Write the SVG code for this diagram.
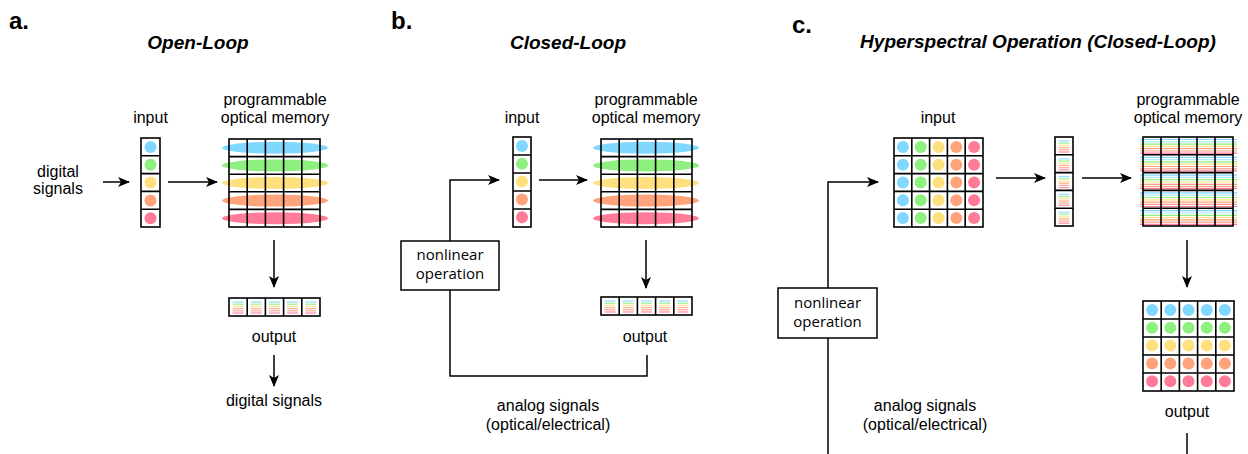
<svg xmlns="http://www.w3.org/2000/svg" width="1248" height="454" viewBox="0 0 1248 454">
<defs>
<style>
text{font-family:"Liberation Sans",Arial,sans-serif;font-size:16px;fill:#000;text-anchor:middle}
.lbl{font-size:24px;font-weight:bold;text-anchor:start}
.ttl{font-size:19px;font-weight:bold;font-style:italic}
.nl{font-family:"Open Sans","DejaVu Sans",sans-serif;font-size:15px}
.ln{fill:none;stroke:#000;stroke-width:1.5}
.arr{fill:none;stroke:#000;stroke-width:1.5;marker-end:url(#ah)}
.grid{fill:none;stroke:#000;stroke-width:1.6}
.box{fill:#fff;stroke:#000;stroke-width:1.5}
.b{fill:#80d8ff}.g{fill:#8ef07e}.y{fill:#ffe07f}.o{fill:#ffa47a}.p{fill:#ff7b97}
.sb{stroke:#80d8ff}.sg{stroke:#8ef07e}.sy{stroke:#ffe07f}.so{stroke:#ffa47a}.sp{stroke:#ff7b97}.sl{stroke:#b0e8ff}.ss{stroke:#ff9a88}
.st{stroke-width:1.3;fill:none;opacity:0.8}
</style>
<marker id="ah" viewBox="0 0 12 12" refX="11" refY="6" markerWidth="12" markerHeight="12" markerUnits="userSpaceOnUse" orient="auto"><path d="M0,1 L12,6 L0,11 L3,6 z" fill="#000"/></marker>
<g id="vcol">
<circle cx="0" cy="0" r="6" class="b"/><circle cx="0" cy="17.8" r="6" class="g"/><circle cx="0" cy="35.6" r="6" class="y"/><circle cx="0" cy="53.4" r="6" class="o"/><circle cx="0" cy="71.2" r="6" class="p"/>
</g>
<g id="hrow">
<circle cx="0" cy="0" r="6" class="b"/><circle cx="17.8" cy="0" r="6" class="g"/><circle cx="35.6" cy="0" r="6" class="y"/><circle cx="53.4" cy="0" r="6" class="o"/><circle cx="71.2" cy="0" r="6" class="p"/>
</g>
<g id="spec" class="st">
<path d="M3.5,4H14.5" class="sb"/><path d="M3.5,6.2H14.5" class="sg"/><path d="M3.5,8.4H14.5" class="sy"/><path d="M3.5,10.6H14.5" class="so"/><path d="M3.5,12.8H14.5" class="ss"/><path d="M3.5,15H14.5" class="sp"/>
</g>
<g id="mstr" style="stroke-width:1.2;fill:none">
<path d="M1140,2.5H1237" class="sb"/><path d="M1140,4.8H1237" class="sl"/><path d="M1140,7.1H1237" class="sg"/><path d="M1140,9.4H1237" class="sy"/><path d="M1140,11.7H1237" class="so"/><path d="M1140,14H1237" class="ss"/><path d="M1140,16.1H1237" class="sp"/>
</g>
</defs>
<rect width="1248" height="454" fill="#fff"/>

<!-- Labels and titles -->
<text class="lbl" x="9" y="29">a.</text>
<text class="lbl" x="391" y="29">b.</text>
<text class="lbl" x="792" y="33">c.</text>
<text class="ttl" x="198" y="49">Open-Loop</text>
<text class="ttl" x="568" y="49">Closed-Loop</text>
<text class="ttl" x="1038" y="48">Hyperspectral Operation (Closed-Loop)</text>

<!-- Connectors -->
<g id="connectors">
<path class="arr" d="M103,182H129"/>
<path class="arr" d="M168,182H217"/>
<path class="arr" d="M274,240V287"/>
<path class="arr" d="M274,355V386"/>
<path class="arr" d="M539,180H587"/>
<path class="arr" d="M646,240V288"/>
<path class="arr" d="M647,355V376H450V180H499"/>
<path class="arr" d="M996,178H1045"/>
<path class="arr" d="M1082,178H1131"/>
<path class="arr" d="M1187,240V287"/>
<path class="ln" d="M1187,433V454"/>
<path class="arr" d="M828,454V182H878"/>
</g>

<!-- Panel a -->
<g id="a-digital-in">
<text x="58" y="177">digital</text>
<text x="58" y="194">signals</text>
</g>
<g id="a-input">
<text x="150.5" y="123">input</text>
<use href="#vcol" x="150.5" y="147"/>
<rect class="grid" x="141" y="138" width="19" height="89"/>
<path class="grid" d="M141,155.8H160M141,173.6H160M141,191.4H160M141,209.2H160"/>
</g>
<g id="a-memory">
<text x="275" y="105">programmable</text>
<text x="275" y="123">optical memory</text>
<ellipse cx="275" cy="147.8" rx="53" ry="6" class="b"/>
<ellipse cx="275" cy="165.4" rx="53" ry="6" class="g"/>
<ellipse cx="275" cy="183" rx="53" ry="6" class="y"/>
<ellipse cx="275" cy="200.6" rx="53" ry="6" class="o"/>
<ellipse cx="275" cy="218.2" rx="53" ry="6" class="p"/>
<rect class="grid" x="229" y="139" width="91" height="88"/>
<path class="grid" d="M247.2,139V227M265.4,139V227M283.6,139V227M301.8,139V227M229,156.6H320M229,174.2H320M229,191.8H320M229,209.4H320"/>
</g>
<g id="a-output">
<use href="#spec" x="229" y="298"/><use href="#spec" x="247.2" y="298"/><use href="#spec" x="265.4" y="298"/><use href="#spec" x="283.6" y="298"/><use href="#spec" x="301.8" y="298"/>
<rect class="grid" x="229" y="298" width="91" height="18"/>
<path class="grid" d="M247.2,298V316M265.4,298V316M283.6,298V316M301.8,298V316"/>
<text x="274" y="342">output</text>
</g>
<g id="a-digital-out">
<text x="274" y="406">digital signals</text>
</g>

<!-- Panel b -->
<g id="b-input">
<text x="522" y="123">input</text>
<use href="#vcol" x="522" y="146"/>
<rect class="grid" x="513" y="137" width="18" height="90"/>
<path class="grid" d="M513,155H531M513,173H531M513,191H531M513,209H531"/>
</g>
<g id="b-memory">
<text x="646" y="105">programmable</text>
<text x="646" y="123">optical memory</text>
<ellipse cx="646" cy="147.8" rx="53" ry="6" class="b"/>
<ellipse cx="646" cy="165.4" rx="53" ry="6" class="g"/>
<ellipse cx="646" cy="183" rx="53" ry="6" class="y"/>
<ellipse cx="646" cy="200.6" rx="53" ry="6" class="o"/>
<ellipse cx="646" cy="218.2" rx="53" ry="6" class="p"/>
<rect class="grid" x="601" y="139" width="91" height="88"/>
<path class="grid" d="M619.2,139V227M637.4,139V227M655.6,139V227M673.8,139V227M601,156.6H692M601,174.2H692M601,191.8H692M601,209.4H692"/>
</g>
<g id="b-output">
<use href="#spec" x="601" y="297"/><use href="#spec" x="619.2" y="297"/><use href="#spec" x="637.4" y="297"/><use href="#spec" x="655.6" y="297"/><use href="#spec" x="673.8" y="297"/>
<rect class="grid" x="601" y="297" width="91" height="18"/>
<path class="grid" d="M619.2,297V315M637.4,297V315M655.6,297V315M673.8,297V315"/>
<text x="645" y="342">output</text>
</g>
<g id="b-nonlinear">
<rect class="box" x="401" y="241" width="98" height="49"/>
<text class="nl" x="450" y="260">nonlinear</text>
<text class="nl" x="450" y="279">operation</text>
</g>
<g id="b-analog">
<text x="548" y="411">analog signals</text>
<text x="548" y="430">(optical/electrical)</text>
</g>

<!-- Panel c -->
<g id="c-input">
<text x="938" y="123">input</text>
<use href="#hrow" x="902.9" y="146.9"/><use href="#hrow" x="902.9" y="164.7"/><use href="#hrow" x="902.9" y="182.5"/><use href="#hrow" x="902.9" y="200.3"/><use href="#hrow" x="902.9" y="218.1"/>
<rect class="grid" x="894" y="138" width="89" height="89"/>
<path class="grid" d="M911.8,138V227M929.6,138V227M947.4,138V227M965.2,138V227M894,155.8H983M894,173.6H983M894,191.4H983M894,209.2H983"/>
</g>
<g id="c-vector">
<use href="#spec" x="1055" y="137"/><use href="#spec" x="1055" y="154.8"/><use href="#spec" x="1055" y="172.6"/><use href="#spec" x="1055" y="190.4"/><use href="#spec" x="1055" y="208.2"/>
<rect class="grid" x="1055" y="137" width="18" height="89"/>
<path class="grid" d="M1055,154.8H1073M1055,172.6H1073M1055,190.4H1073M1055,208.2H1073"/>
</g>
<g id="c-memory">
<text x="1188" y="105">programmable</text>
<text x="1188" y="123">optical memory</text>
<use href="#mstr" y="137"/><use href="#mstr" y="154.8"/><use href="#mstr" y="172.6"/><use href="#mstr" y="190.4"/><use href="#mstr" y="208.2"/>
<rect class="grid" x="1143" y="137" width="90" height="89"/>
<path class="grid" d="M1161,137V226M1179,137V226M1197,137V226M1215,137V226M1143,154.8H1233M1143,172.6H1233M1143,190.4H1233M1143,208.2H1233"/>
</g>
<g id="c-output">
<use href="#vcol" x="1152.1" y="310"/><use href="#vcol" x="1170.3" y="310"/><use href="#vcol" x="1188.5" y="310"/><use href="#vcol" x="1206.7" y="310"/><use href="#vcol" x="1224.9" y="310"/>
<rect class="grid" x="1143" y="301" width="91" height="90"/>
<path class="grid" d="M1161.2,301V391M1179.4,301V391M1197.6,301V391M1215.8,301V391M1143,319H1234M1143,337H1234M1143,355H1234M1143,373H1234"/>
<text x="1187" y="417">output</text>
</g>
<g id="c-nonlinear">
<rect class="box" x="778" y="288" width="99" height="50"/>
<text class="nl" x="827.5" y="308">nonlinear</text>
<text class="nl" x="827.5" y="327">operation</text>
</g>
<g id="c-analog">
<text x="925" y="411">analog signals</text>
<text x="925" y="430">(optical/electrical)</text>
</g>
</svg>
